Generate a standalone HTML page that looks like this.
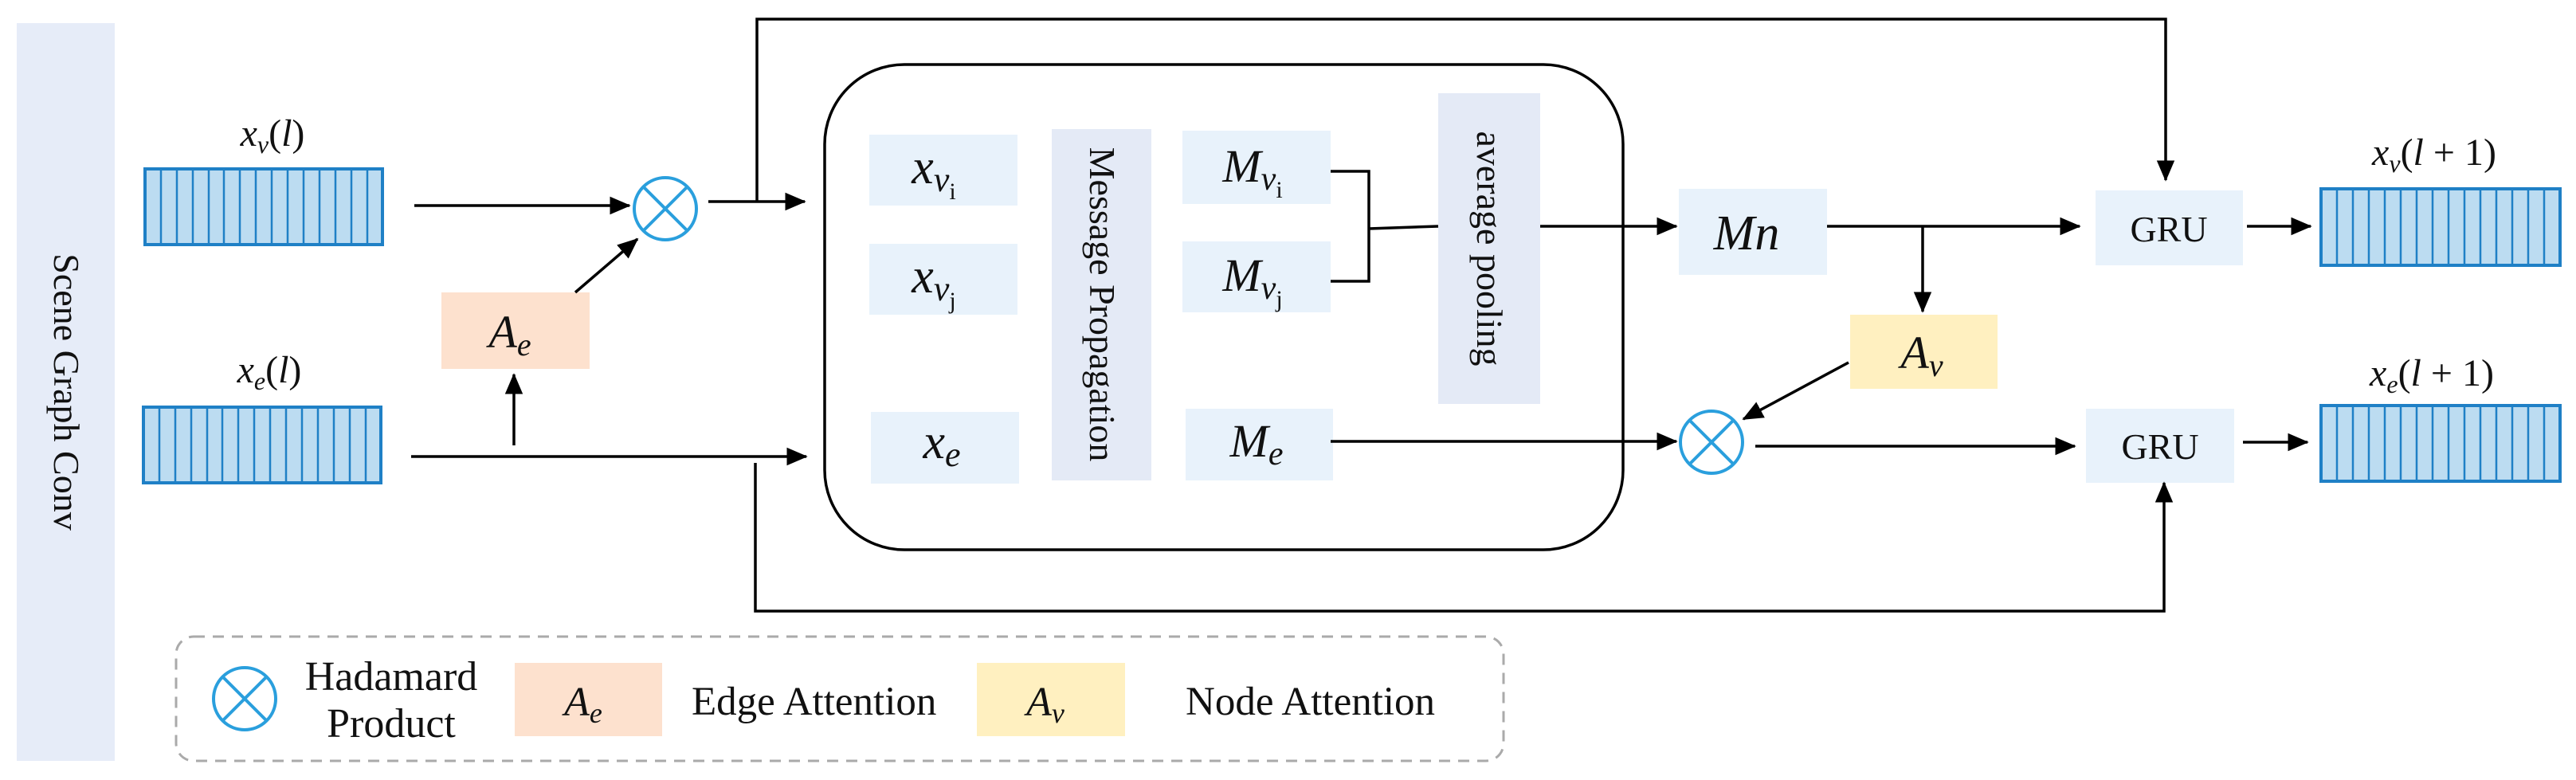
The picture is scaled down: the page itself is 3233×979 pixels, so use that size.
<!DOCTYPE html>
<html><head><meta charset="utf-8"><style>
html,body{margin:0;padding:0;background:#fff;}
svg{display:block;}
text{font-family:"Liberation Serif",serif;fill:#111;}
.m{font-style:italic;}
</style></head><body>
<svg width="3233" height="979" viewBox="0 0 3233 979" xmlns="http://www.w3.org/2000/svg">
<defs>
<marker id="a" markerWidth="8" markerHeight="8" refX="7" refY="4" orient="auto" markerUnits="strokeWidth">
<path d="M0,0.8 L7.5,4 L0,7.2 Z" fill="#000"/></marker>
</defs>

<rect x="21" y="29" width="123" height="926" fill="#e6ecf8"/>
<text x="0" y="0" font-size="46" text-anchor="middle" transform="translate(68,492) rotate(90)">Scene Graph Conv</text>

<g stroke="#1f80c6" stroke-width="4">
<rect x="182" y="212" width="298" height="95" fill="#bcdcf1"/>
<rect x="180" y="511" width="298" height="95" fill="#bcdcf1"/>
<rect x="2913" y="237" width="300" height="96" fill="#bcdcf1"/>
<rect x="2913" y="509" width="300" height="95" fill="#bcdcf1"/>
</g>
<g stroke="#1f80c6" stroke-width="2.5">
<path d="M202,212V307M222,212V307M242,212V307M262,212V307M281,212V307M301,212V307M321,212V307M341,212V307M361,212V307M381,212V307M401,212V307M421,212V307M441,212V307M461,212V307"/>
<path d="M200,511V606M220,511V606M240,511V606M260,511V606M279,511V606M299,511V606M319,511V606M339,511V606M359,511V606M379,511V606M399,511V606M419,511V606M439,511V606M459,511V606"/>
<path d="M2933,237V333M2953,237V333M2973,237V333M2993,237V333M3013,237V333M3033,237V333M3053,237V333M3073,237V333M3093,237V333M3113,237V333M3133,237V333M3153,237V333M3173,237V333M3193,237V333"/>
<path d="M2933,509V604M2953,509V604M2973,509V604M2993,509V604M3013,509V604M3033,509V604M3053,509V604M3073,509V604M3093,509V604M3113,509V604M3133,509V604M3153,509V604M3173,509V604M3193,509V604"/>
</g>

<text x="342" y="183" font-size="48" text-anchor="middle" class="m">x<tspan font-size="32" dy="9">v</tspan><tspan dy="-9" font-style="normal">(</tspan>l<tspan font-style="normal">)</tspan></text>
<text x="338" y="480" font-size="48" text-anchor="middle" class="m">x<tspan font-size="32" dy="9">e</tspan><tspan dy="-9" font-style="normal">(</tspan>l<tspan font-style="normal">)</tspan></text>
<text x="3055" y="207" font-size="48" text-anchor="middle" class="m">x<tspan font-size="32" dy="9">v</tspan><tspan dy="-9" font-style="normal">(</tspan>l<tspan font-style="normal"> + 1)</tspan></text>
<text x="3052" y="484" font-size="48" text-anchor="middle" class="m">x<tspan font-size="32" dy="9">e</tspan><tspan dy="-9" font-style="normal">(</tspan>l<tspan font-style="normal"> + 1)</tspan></text>

<rect x="554" y="367" width="186" height="96" fill="#fde1ce"/>
<text x="640" y="436" font-size="58" class="m" text-anchor="middle">A<tspan font-size="40" dy="10">e</tspan></text>

<rect x="1035" y="81" width="1002" height="609" rx="100" fill="none" stroke="#000" stroke-width="3.5"/>
<rect x="1091" y="169" width="186" height="89" fill="#e8f2fb"/>
<rect x="1091" y="306" width="186" height="89" fill="#e8f2fb"/>
<rect x="1093" y="517" width="186" height="90" fill="#e8f2fb"/>
<rect x="1320" y="162" width="125" height="441" fill="#e4eaf6"/>
<rect x="1484" y="164" width="186" height="92" fill="#e8f2fb"/>
<rect x="1484" y="303" width="186" height="89" fill="#e8f2fb"/>
<rect x="1488" y="513" width="185" height="90" fill="#e8f2fb"/>
<rect x="1805" y="117" width="128" height="390" fill="#e4eaf6"/>
<rect x="2107" y="237" width="186" height="108" fill="#e8f2fb"/>
<rect x="2322" y="395" width="185" height="93" fill="#fff0c0"/>
<rect x="2630" y="239" width="185" height="94" fill="#e8f2fb"/>
<rect x="2618" y="513" width="186" height="93" fill="#e8f2fb"/>

<text x="1172" y="230" font-size="62" class="m" text-anchor="middle">x<tspan font-size="44" dy="10">v</tspan><tspan font-size="30" dy="10" font-style="normal">i</tspan></text>
<text x="1172" y="367" font-size="62" class="m" text-anchor="middle">x<tspan font-size="44" dy="10">v</tspan><tspan font-size="30" dy="10" font-style="normal">j</tspan></text>
<text x="1182" y="575" font-size="62" class="m" text-anchor="middle">x<tspan font-size="44" dy="10">e</tspan></text>
<text x="1572" y="228" font-size="58" class="m" text-anchor="middle">M<tspan font-size="42" dy="10">v</tspan><tspan font-size="30" dy="10" font-style="normal">i</tspan></text>
<text x="1572" y="365" font-size="58" class="m" text-anchor="middle">M<tspan font-size="42" dy="10">v</tspan><tspan font-size="30" dy="10" font-style="normal">j</tspan></text>
<text x="1577" y="573" font-size="58" class="m" text-anchor="middle">M<tspan font-size="42" dy="10">e</tspan></text>
<text x="2192" y="313" font-size="62" class="m" text-anchor="middle">Mn</text>
<text x="2412" y="462" font-size="58" class="m" text-anchor="middle">A<tspan font-size="40" dy="10">v</tspan></text>
<text x="2722" y="303" font-size="46" text-anchor="middle">GRU</text>
<text x="2711" y="576" font-size="46" text-anchor="middle">GRU</text>
<text x="0" y="0" font-size="46" text-anchor="middle" transform="translate(1368,382) rotate(90)">Message Propagation</text>
<text x="0" y="0" font-size="46" text-anchor="middle" transform="translate(1854,312) rotate(90)">average pooling</text>

<g fill="none" stroke="#2a9fdd" stroke-width="4">
<circle cx="835" cy="262" r="39"/><path d="M807,234L863,290M863,234L807,290"/>
<circle cx="2148" cy="555" r="39"/><path d="M2120,527L2176,583M2176,527L2120,583"/>
<circle cx="307" cy="877" r="39"/><path d="M279,849L335,905M335,849L279,905"/>
</g>

<g fill="none" stroke="#000" stroke-width="3.5">
<path d="M520,258H790" marker-end="url(#a)"/>
<path d="M722,367L800,300" marker-end="url(#a)"/>
<path d="M645,559V470" marker-end="url(#a)"/>
<path d="M889,253H1010" marker-end="url(#a)"/>
<path d="M950,253V24H2718V226" marker-end="url(#a)"/>
<path d="M516,573H1012" marker-end="url(#a)"/>
<path d="M948,581V767H2716V606" marker-end="url(#a)"/>
<path d="M1670,215H1718V353H1670M1718,287L1805,284"/>
<path d="M1933,284H2104" marker-end="url(#a)"/>
<path d="M1670,554H2104" marker-end="url(#a)"/>
<path d="M2293,284H2610" marker-end="url(#a)"/>
<path d="M2413,284V391" marker-end="url(#a)"/>
<path d="M2320,455L2188,526" marker-end="url(#a)"/>
<path d="M2203,560H2604" marker-end="url(#a)"/>
<path d="M2820,284H2900" marker-end="url(#a)"/>
<path d="M2815,555H2896" marker-end="url(#a)"/>
</g>

<rect x="221" y="799" width="1666" height="156" rx="22" fill="none" stroke="#aaa" stroke-width="3" stroke-dasharray="14,10"/>
<text x="491" y="866" font-size="52" text-anchor="middle">Hadamard</text>
<text x="491" y="925" font-size="52" text-anchor="middle">Product</text>
<rect x="646" y="832" width="185" height="92" fill="#fde1ce"/>
<text x="732" y="898" font-size="52" class="m" text-anchor="middle">A<tspan font-size="36" dy="9">e</tspan></text>
<text x="868" y="897" font-size="51">Edge Attention</text>
<rect x="1226" y="832" width="186" height="92" fill="#fff0c0"/>
<text x="1312" y="898" font-size="52" class="m" text-anchor="middle">A<tspan font-size="36" dy="9">v</tspan></text>
<text x="1488" y="897" font-size="51">Node Attention</text>
</svg>
</body></html>
